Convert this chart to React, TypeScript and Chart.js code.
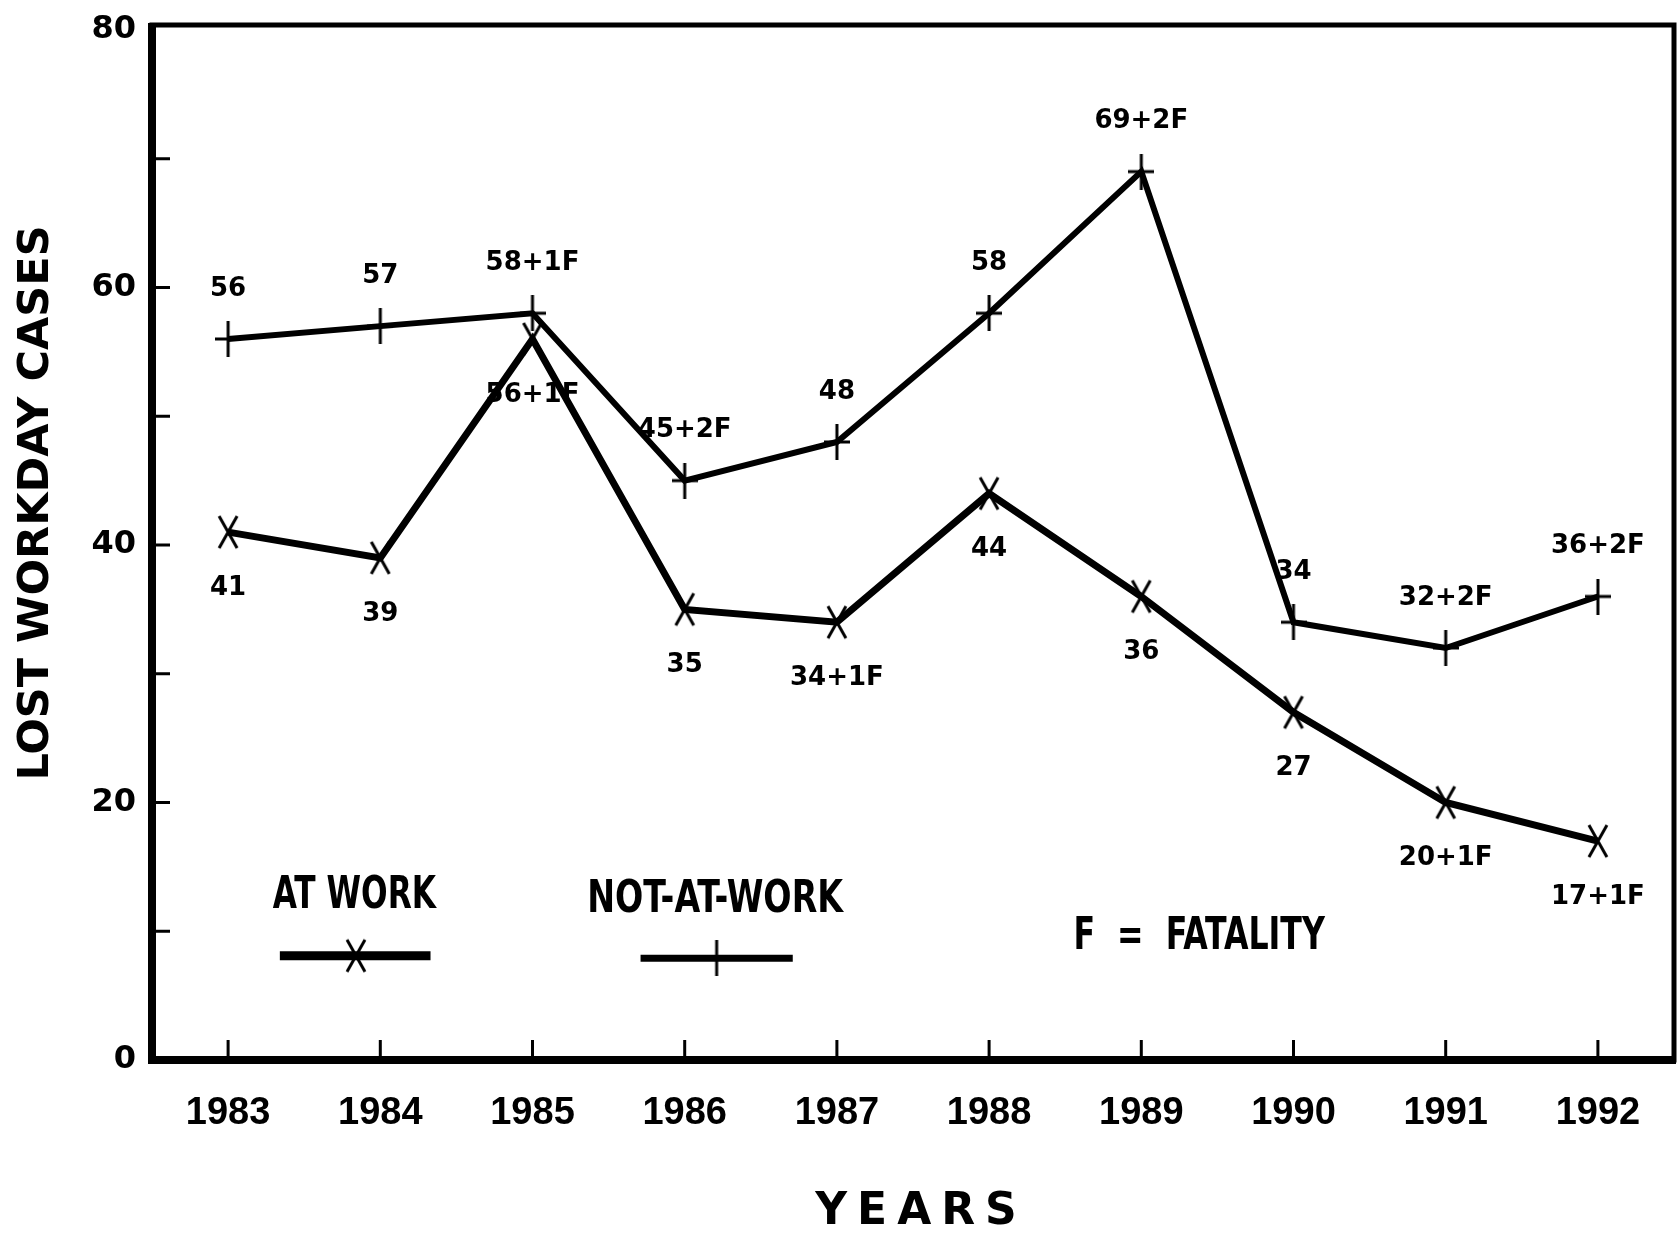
import React, { useEffect, useRef } from "react";
import { Chart, registerables } from "chart.js";

Chart.register(...registerables);

// ---- data ----
const YEARS = ["1983", "1984", "1985", "1986", "1987", "1988", "1989", "1990", "1991", "1992"];
const AT_WORK = [41, 39, 56, 35, 34, 44, 36, 27, 20, 17];
const AT_WORK_LABELS = ["41", "39", "56+1F", "35", "34+1F", "44", "36", "27", "20+1F", "17+1F"];
const NOT_AT_WORK = [56, 57, 58, 45, 48, 58, 69, 34, 32, 36];
const NOT_AT_WORK_LABELS = ["56", "57", "58+1F", "45+2F", "48", "58", "69+2F", "34", "32+2F", "36+2F"];
const Y_MINOR_TICKS = [10, 30, 50, 70];
const SERIES_NAMES = ["AT WORK", "NOT-AT-WORK"];
const NOTE_TEXT = "F  =  FATALITY";
const Y_TITLE = "LOST WORKDAY CASES";
const X_TITLE = "YEARS";

const CONDENSED = "'DejaVu Sans Condensed', 'Liberation Sans', sans-serif";
const WIDE = "'DejaVu Sans', sans-serif";
const LIB = "'Liberation Sans', Arial, sans-serif";

function makeMarker(kind: "x" | "plus"): HTMLCanvasElement {
  const c = document.createElement("canvas");
  const w = kind === "x" ? 22 : 26;
  const h = 36;
  c.width = w;
  c.height = h;
  const g = c.getContext("2d")!;
  g.strokeStyle = "#000";
  g.lineWidth = 3;
  g.beginPath();
  if (kind === "x") {
    g.moveTo(2, 2);
    g.lineTo(w - 2, h - 2);
    g.moveTo(w - 2, 2);
    g.lineTo(2, h - 2);
  } else {
    g.moveTo(w / 2, 0);
    g.lineTo(w / 2, h);
    g.moveTo(0, h / 2);
    g.lineTo(w, h / 2);
  }
  g.stroke();
  return c;
}

export default function App() {
  const ref = useRef<HTMLCanvasElement | null>(null);

  useEffect(() => {
    document.body.style.margin = "0";
    document.body.style.overflow = "hidden";
    const canvas = ref.current!;
    const xMark = makeMarker("x");
    const plusMark = makeMarker("plus");

    const squeezedText = (ctx: any, text: string, x: number, y: number, sx: number) => {
      ctx.save();
      ctx.translate(x, y);
      ctx.scale(sx, 1);
      ctx.fillText(text, 0, 0);
      ctx.restore();
    };

    const decor = {
      id: "decor",
      afterDraw(chart: any) {
        const { ctx, chartArea: a, scales } = chart;
        const xs = scales.x;
        const ys = scales.y;
        ctx.save();
        ctx.strokeStyle = "#000";
        ctx.fillStyle = "#000";

        // frame
        const top = a.top - 5;
        ctx.lineWidth = 5;
        ctx.strokeRect(a.left, top, a.right - a.left, a.bottom - top);
        ctx.lineWidth = 8;
        ctx.beginPath();
        ctx.moveTo(a.left - 4, a.bottom);
        ctx.lineTo(a.right + 2, a.bottom);
        ctx.moveTo(a.left, top - 2);
        ctx.lineTo(a.left, a.bottom + 4);
        ctx.stroke();

        // inward ticks
        ctx.lineWidth = 3;
        ctx.beginPath();
        [...(ys.ticks || []).map((t: any) => t.value), ...Y_MINOR_TICKS].forEach((v: number) => {
          if (v <= 0 || v >= 80) return;
          const y = ys.getPixelForValue(v);
          ctx.moveTo(a.left, y);
          ctx.lineTo(a.left + 18, y);
        });
        YEARS.forEach((_, i) => {
          const x = xs.getPixelForValue(i);
          ctx.moveTo(x, a.bottom);
          ctx.lineTo(x, a.bottom - 20);
        });
        ctx.stroke();

        // data labels
        ctx.font = `bold 26px ${WIDE}`;
        ctx.textAlign = "center";
        ctx.textBaseline = "middle";
        NOT_AT_WORK.forEach((v, i) => {
          ctx.fillText(NOT_AT_WORK_LABELS[i], xs.getPixelForValue(i), ys.getPixelForValue(v) - 50);
        });
        AT_WORK.forEach((v, i) => {
          ctx.fillText(AT_WORK_LABELS[i], xs.getPixelForValue(i), ys.getPixelForValue(v) + 56);
        });

        // legend
        ctx.font = `bold 44px ${CONDENSED}`;
        squeezedText(ctx, SERIES_NAMES[0], xs.getPixelForValue(0.83), ys.getPixelForValue(12.7), 0.79);
        squeezedText(ctx, SERIES_NAMES[1], xs.getPixelForValue(3.2), ys.getPixelForValue(12.4), 0.84);
        squeezedText(ctx, NOTE_TEXT, xs.getPixelForValue(6.38), ys.getPixelForValue(9.5), 0.8);

        ctx.lineWidth = 9;
        ctx.beginPath();
        const ly0 = ys.getPixelForValue(8.1);
        ctx.moveTo(xs.getPixelForValue(0.34), ly0);
        ctx.lineTo(xs.getPixelForValue(1.33), ly0);
        ctx.stroke();
        ctx.drawImage(xMark, xs.getPixelForValue(0.84) - xMark.width / 2, ly0 - xMark.height / 2);

        ctx.lineWidth = 7;
        ctx.beginPath();
        const ly1 = ys.getPixelForValue(7.9);
        ctx.moveTo(xs.getPixelForValue(2.71), ly1);
        ctx.lineTo(xs.getPixelForValue(3.71), ly1);
        ctx.stroke();
        ctx.drawImage(plusMark, xs.getPixelForValue(3.21) - plusMark.width / 2, ly1 - plusMark.height / 2);

        // axis titles
        ctx.font = `bold 43px ${WIDE}`;
        ctx.save();
        ctx.translate(37, 503);
        ctx.rotate(-Math.PI / 2);
        ctx.fillText(Y_TITLE, 0, 0);
        ctx.restore();

        ctx.font = `bold 44px ${WIDE}`;
        (ctx as any).letterSpacing = "10px";
        ctx.fillText(X_TITLE, (a.left + a.right) / 2 + 8, 1213);
        (ctx as any).letterSpacing = "0px";

        ctx.restore();
      },
    };

    const chart = new Chart(canvas, {
      type: "line",
      data: {
        labels: YEARS,
        datasets: [
          {
            label: SERIES_NAMES[0],
            data: AT_WORK,
            borderColor: "#000",
            backgroundColor: "#000",
            borderWidth: 7,
            pointStyle: xMark as any,
            pointRadius: 10,
            tension: 0,
          },
          {
            label: SERIES_NAMES[1],
            data: NOT_AT_WORK,
            borderColor: "#000",
            backgroundColor: "#000",
            borderWidth: 6,
            pointStyle: plusMark as any,
            pointRadius: 10,
            tension: 0,
          },
        ],
      },
      options: {
        responsive: false,
        animation: false,
        devicePixelRatio: 1,
        layout: { autoPadding: false, padding: { top: 30, right: 5, left: 0, bottom: 0 } },
        plugins: {
          legend: { display: false },
          tooltip: { enabled: false },
        },
        scales: {
          x: {
            type: "category",
            offset: true,
            grid: { display: false, drawTicks: false },
            border: { display: false },
            ticks: {
              color: "#000",
              padding: 31,
              maxRotation: 0,
              font: { family: LIB, size: 38, weight: "bold" },
            },
            afterFit: (s: any) => {
              s.height = 173;
              s.paddingLeft = 0;
              s.paddingRight = 0;
            },
          },
          y: {
            min: 0,
            max: 80,
            grid: { display: false, drawTicks: false },
            border: { display: false },
            ticks: {
              stepSize: 20,
              color: "#000",
              padding: 16,
              font: { family: WIDE, size: 32, weight: "bold" },
            },
            afterFit: (s: any) => {
              s.width = 152;
              s.paddingTop = 0;
              s.paddingBottom = 0;
            },
          },
        },
      },
      plugins: [decor],
    });

    return () => chart.destroy();
  }, []);

  return (
    <div style={{ width: 1679, height: 1233, background: "#fff" }}>
      <canvas ref={ref} width={1679} height={1233} style={{ display: "block" }} />
    </div>
  );
}
